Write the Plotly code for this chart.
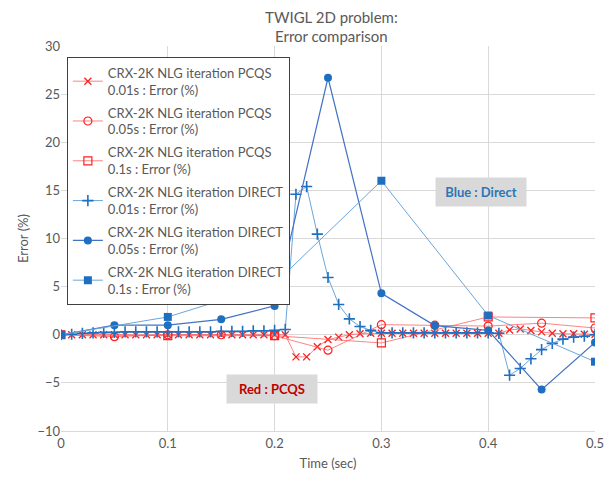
import plotly.graph_objects as go

# ---- data ----
t_001 = [round(0.01 * i, 2) for i in range(51)]
t_005 = [0, 0.05, 0.1, 0.15, 0.2, 0.25, 0.3, 0.35, 0.4, 0.45, 0.5]
t_01 = [0, 0.1, 0.2, 0.3, 0.4, 0.5]

pcqs_001 = [0, 0, 0, 0, 0, 0, 0, 0, 0, 0,
            0, 0, 0, 0, 0, 0, 0, 0, 0, 0,
            0, 0, -2.3, -2.3, -1.25, -0.5, -0.25, 0, 0.1, 0.15,
            0.15, 0.15, 0.15, 0.15, 0.15, 0.15, 0.15, 0.15, 0.15, 0.15,
            0.15, 0.15, 0.5, 0.6, 0.45, 0.3, 0.15, 0.1, 0.1, 0.05, 0.05]
pcqs_005 = [0, -0.2, 0, 0, -0.1, -1.6, 1.05, 1.0, 0.9, 1.2, 0.7]
pcqs_01 = [0, -0.1, -0.1, -0.85, 1.85, 1.75]

direct_001 = [0, 0.05, 0.15, 0.2, 0.25, 0.25, 0.3, 0.3, 0.3, 0.3,
              0.3, 0.3, 0.3, 0.3, 0.3, 0.35, 0.35, 0.35, 0.4, 0.4,
              0.45, 0.55, 14.6, 15.4, 10.45, 5.95, 3.15, 1.65, 0.85, 0.45,
              0.2, 0.2, 0.2, 0.2, 0.2, 0.2, 0.2, 0.2, 0.2, 0.2,
              0.2, 0.15, -4.2, -3.5, -2.5, -1.55, -0.9, -0.45, -0.25, -0.15, 0]
direct_005 = [0, 1.0, 1.0, 1.6, 3.0, 26.7, 4.3, 0.95, 0.45, -5.7, -0.8]
direct_01 = [0, 1.85, 5.3, 16.0, 2.0, -2.8]

names = [
    "CRX-2K NLG iteration PCQS<br>0.01s : Error (%)",
    "CRX-2K NLG iteration PCQS<br>0.05s : Error (%)",
    "CRX-2K NLG iteration PCQS<br>0.1s : Error (%)",
    "CRX-2K NLG iteration DIRECT<br>0.01s : Error (%)",
    "CRX-2K NLG iteration DIRECT<br>0.05s : Error (%)",
    "CRX-2K NLG iteration DIRECT<br>0.1s : Error (%)",
]

x_ticks = [0, 0.1, 0.2, 0.3, 0.4, 0.5]
x_ticklabels = ["0", "0.1", "0.2", "0.3", "0.4", "0.5"]
y_ticks = [-10, -5, 0, 5, 10, 15, 20, 25, 30]

FONT = "Lato, Liberation Sans, sans-serif"
GREY = "#595959"

fig = go.Figure()

red_line = "rgba(255,90,90,0.75)"
red_mk = "#FF2020"

fig.add_trace(go.Scatter(x=t_001, y=pcqs_001, name=names[0], mode="lines+markers",
                         legendgroup="a",
                         line=dict(color=red_line, width=1),
                         marker=dict(symbol="x-thin-open", size=7, color=red_mk,
                                     line=dict(width=1.3, color=red_mk))))
fig.add_trace(go.Scatter(x=t_005, y=pcqs_005, name=names[1], mode="lines+markers",
                         legendgroup="b",
                         line=dict(color=red_line, width=1),
                         marker=dict(symbol="circle-open", size=8, color=red_mk,
                                     line=dict(width=1.2, color=red_mk))))
fig.add_trace(go.Scatter(x=t_01, y=pcqs_01, name=names[2], mode="lines+markers",
                         legendgroup="c",
                         line=dict(color=red_line, width=1),
                         marker=dict(symbol="square-open", size=8, color=red_mk,
                                     line=dict(width=1.2, color=red_mk))))

blue_light = "#6AA6DC"
blue_dark = "#4472C4"
blue_mk = "#1F6FC0"

fig.add_trace(go.Scatter(x=t_001, y=direct_001, name=names[3], mode="lines+markers",
                         legendgroup="d",
                         line=dict(color=blue_light, width=1),
                         marker=dict(symbol="cross-thin-open", size=8, color=blue_mk,
                                     line=dict(width=1.6, color=blue_mk))))
fig.add_trace(go.Scatter(x=t_005, y=direct_005, name=names[4], mode="lines+markers",
                         legendgroup="e",
                         line=dict(color=blue_dark, width=1.2),
                         marker=dict(symbol="circle", size=8, color=blue_mk)))
fig.add_trace(go.Scatter(x=t_01, y=direct_01, name=names[5], mode="lines+markers",
                         legendgroup="f",
                         line=dict(color=blue_light, width=1),
                         marker=dict(symbol="square", size=8, color=blue_mk)))

fig.update_layout(
    width=608, height=477,
    margin=dict(l=61, r=13, t=46, b=46, autoexpand=False),
    paper_bgcolor="white", plot_bgcolor="white",
    font=dict(family=FONT, size=12, color=GREY),
    title=dict(text="TWIGL 2D problem:<br>Error comparison", x=0.545, xanchor="center",
               yref="container", y=0.952, yanchor="middle",
               font=dict(size=15, color=GREY, family=FONT)),
    legend=dict(x=0.011, y=0.972, xanchor="left", yanchor="top",
                bgcolor="white", bordercolor="#404040", borderwidth=1,
                font=dict(size=13, color=GREY, family=FONT),
                itemwidth=30, tracegroupgap=3),
    showlegend=True,
)
fig.add_annotation(x=0.393, y=14.8, xref="x", yref="y", text="<b>Blue : Direct</b>",
                   showarrow=False, font=dict(size=13, color="#2E75B6", family=FONT),
                   bgcolor="#D9D9D9", borderpad=6, width=78, height=16,
                   xanchor="center", yanchor="middle")
fig.add_annotation(x=0.198, y=-5.6, xref="x", yref="y", text="<b>Red : PCQS</b>",
                   showarrow=False, font=dict(size=13, color="#C00000", family=FONT),
                   bgcolor="#D9D9D9", borderpad=6, width=78, height=16,
                   xanchor="center", yanchor="middle")

fig.update_xaxes(range=[0, 0.5], tickvals=x_ticks, ticktext=x_ticklabels,
                 automargin=False,
                 showgrid=True, gridcolor="#D9D9D9", gridwidth=1,
                 zeroline=False, showline=True, linecolor="#D9D9D9",
                 ticks="", tickfont=dict(size=13, color=GREY),
                 title=dict(text="Time (sec)", font=dict(size=13, color=GREY), standoff=9))
fig.update_yaxes(range=[-10, 30], tickvals=y_ticks,
                 automargin=False,
                 showgrid=True, gridcolor="#D9D9D9", gridwidth=1,
                 zeroline=False, showline=False,
                 ticks="", tickfont=dict(size=13, color=GREY),
                 title=dict(text="Error (%)", font=dict(size=13, color=GREY), standoff=5))

fig.write_html("out.html")
